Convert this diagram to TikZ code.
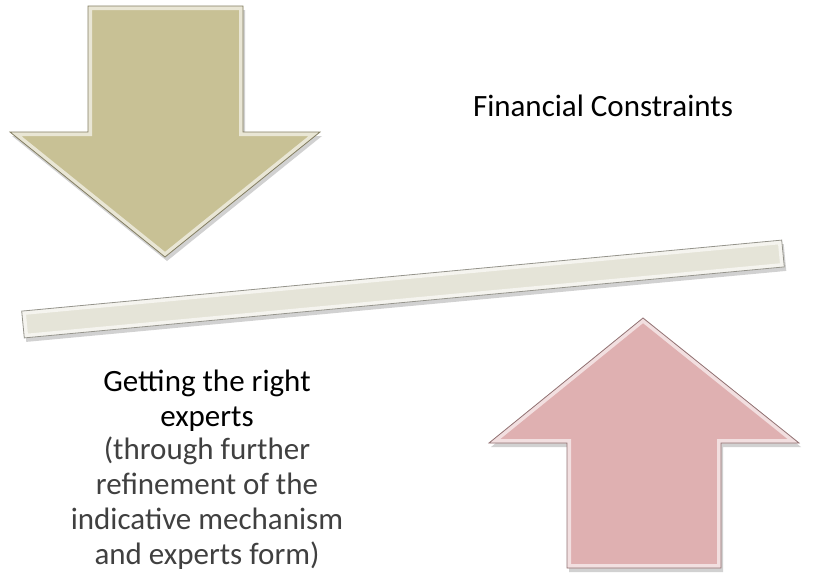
\documentclass[tikz,border=0pt]{standalone}
\usepackage{fontspec}
\setmainfont{Carlito}
\usepackage{xcolor}
\definecolor{khaki}{HTML}{C8C195}
\definecolor{rose}{HTML}{DFB0B1}
\definecolor{beam}{HTML}{E5E4D8}
\definecolor{note-gray}{HTML}{404040}
\tikzset{
    soft-shadow/.style = {fill=black, opacity=0.18, transform canvas={shift={(2,4)}}},
    bevel/.style = {line width=8pt, draw=#1!40!white},
    rim/.style = {line width=0.8pt, draw=#1!65!black},
    title-text/.style = {font=\fontsize{31}{35}\selectfont, align=center, inner sep=0pt},
    note-text/.style = {title-text, text=note-gray},
}

\begin{document}
\begin{tikzpicture}[x=1pt, y=-1pt]
\useasboundingbox (0,0) rectangle (813,573);

% pressing down
\path[save path=\weight] (88,6) -- (243,6) -- (243,132) -- (320,132) -- (165,257) -- (10,132) -- (88,132) -- cycle;
\path[soft-shadow, use path=\weight];
\fill[khaki, use path=\weight];
\begin{scope}
  \path[clip, use path=\weight];
  \draw[bevel=khaki, use path=\weight];
\end{scope}
\draw[rim=khaki, use path=\weight];

% pushing up
\path[save path=\lift] (643,318) -- (799,443) -- (721,443) -- (721,568) -- (567,568) -- (567,443) -- (489,443) -- cycle;
\path[soft-shadow, use path=\lift];
\fill[rose, use path=\lift];
\begin{scope}
  \path[clip, use path=\lift];
  \draw[bevel=rose, use path=\lift];
\end{scope}
\draw[rim=rose, use path=\lift];

% the balance beam
\path[save path=\plank] (21.7,311.1) -- (781.7,240.1) -- (784.3,266.9) -- (24.3,337.9) -- cycle;
\path[soft-shadow, use path=\plank];
\fill[beam, use path=\plank];
\begin{scope}
  \path[clip, use path=\plank];
  \draw[bevel=beam, use path=\plank];
\end{scope}
\draw[rim=beam, use path=\plank];

\node[title-text, anchor=base] (constraints) at (603,116) {Financial Constraints};
\node[title-text, anchor=base] (experts) at (207,426) {Getting the right\\experts};
\node[note-text, anchor=base] (refine) at (207,564) {(through further\\refinement of the\\indicative mechanism\\and experts form)};
\end{tikzpicture}
\end{document}
